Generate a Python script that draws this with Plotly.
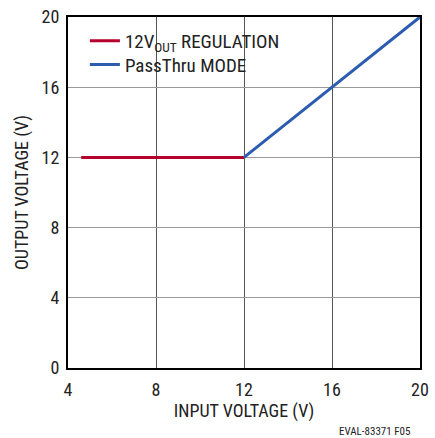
import plotly.graph_objects as go

reg_x = [4.6, 12.0]
reg_y = [12.0, 12.0]
pass_x = [12.0, 20.0]
pass_y = [12.0, 20.0]
x_ticks = [4, 8, 12, 16, 20]
y_ticks = [0, 4, 8, 12, 16, 20]

FONT = "Liberation Sans Narrow, Roboto Condensed, Liberation Sans, Arial"

fig = go.Figure()
fig.add_trace(go.Scatter(x=reg_x, y=reg_y, mode="lines", name="12V<sub>OUT</sub> REGULATION",
                         line=dict(color="#b5002b", width=3), legend="legend"))
fig.add_trace(go.Scatter(x=pass_x, y=pass_y, mode="lines", name="PassThru MODE",
                         line=dict(color="#2c5caf", width=3), legend="legend2"))

leg_common = dict(xanchor="left", yanchor="middle", bgcolor="rgba(0,0,0,0)",
                  font=dict(size=19, color="#222"), itemwidth=30)

fig.update_layout(
    width=435, height=438,
    margin=dict(l=68, r=15, t=17, b=70, autoexpand=False),
    paper_bgcolor="white", plot_bgcolor="white",
    font=dict(family=FONT, size=18, color="#222"),
    showlegend=True,
    legend=dict(x=0.048, y=0.932, **leg_common),
    legend2=dict(x=0.048, y=0.864, **leg_common),
    xaxis=dict(range=[4, 20], tickvals=x_ticks, showgrid=True, gridcolor="#555", gridwidth=1,
               showline=True, linecolor="black", linewidth=2, mirror=True, zeroline=False,
               ticks="", tickfont=dict(size=18), ticklabelstandoff=4, automargin=False,
               title=dict(text="INPUT VOLTAGE (V)", font=dict(size=18), standoff=6)),
    yaxis=dict(range=[0, 20], tickvals=y_ticks, showgrid=True, gridcolor="#999", gridwidth=1,
               showline=True, linecolor="black", linewidth=2, mirror=True, zeroline=False,
               ticks="", tickfont=dict(size=18), ticklabelstandoff=3, automargin=False,
               title=dict(text="OUTPUT VOLTAGE (V)", font=dict(size=18), standoff=8)),
    annotations=[dict(text="EVAL-83371 F05", xref="paper", yref="paper", x=0.977, y=-0.18,
                      xanchor="right", yanchor="middle", showarrow=False,
                      font=dict(size=11, color="#222"))],
)

fig.write_html("out.html", config={"displayModeBar": False},
               post_script="document.body.style.margin='0';")
